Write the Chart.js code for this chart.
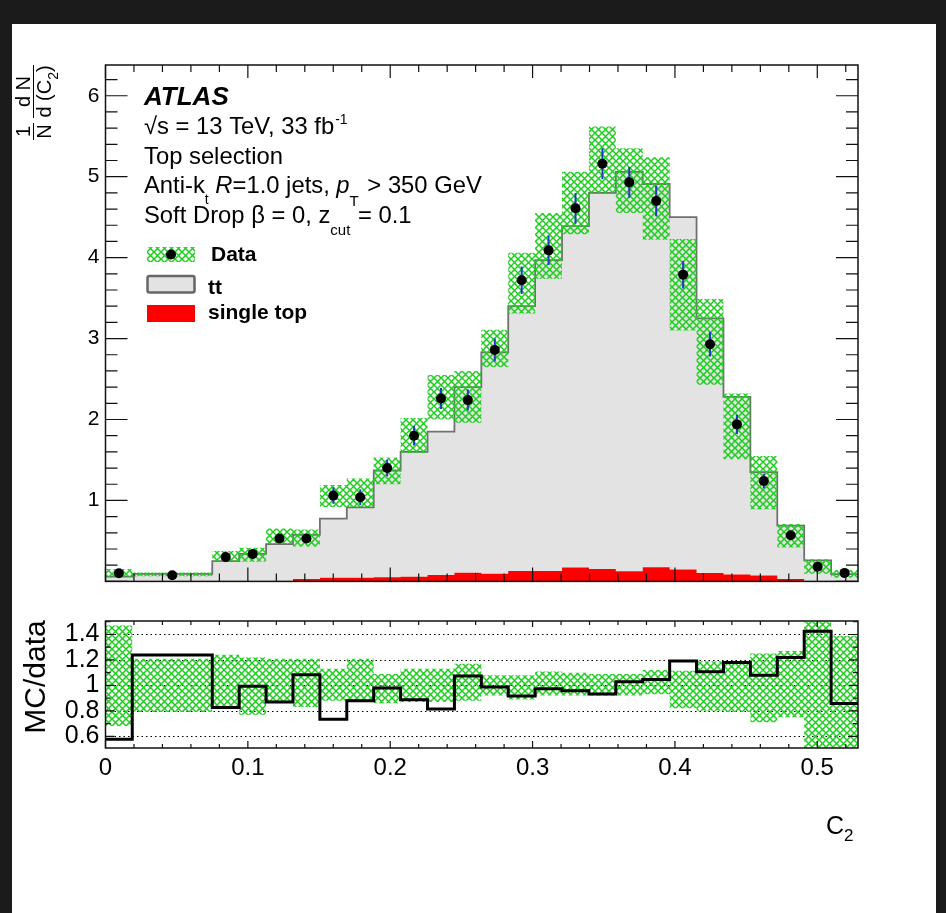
<!DOCTYPE html>
<html>
<head>
<meta charset="utf-8">
<script src="https://cdn.jsdelivr.net/npm/chart.js@4"></script>
<style>
  html, body { margin: 0; padding: 0; background: #1b1b1b; }
  #page { position: absolute; left: 12px; top: 24px; width: 924px; height: 889px; background: #fff; }
  canvas { position: absolute; left: 0; }
  #topChart { top: 0; width: 946px; height: 600px; }
  #ratioChart { top: 600px; width: 946px; height: 313px; }
</style>
</head>
<body>
<div id="page"></div>
<canvas id="topChart" width="946" height="600"></canvas>
<canvas id="ratioChart" width="946" height="313"></canvas>
<script>
const FONT = "'Liberation Sans', Arial, Helvetica, sans-serif";

// C2 bin edges (26 bins)
const binEdges = [0, 0.0188, 0.075, 0.0939, 0.1128, 0.1317, 0.1506, 0.1695, 0.1884, 0.2073,
  0.2262, 0.2451, 0.2640, 0.2829, 0.3018, 0.3207, 0.3396, 0.3585, 0.3774, 0.3963,
  0.4152, 0.4341, 0.4530, 0.4719, 0.4908, 0.5097, 0.5286];

// 1/N dN/dC2, data
const dataValues = [0.10, 0.075, 0.30, 0.34, 0.53, 0.53, 1.06, 1.04, 1.40, 1.80, 2.26, 2.24, 2.86,
  3.72, 4.09, 4.61, 5.16, 4.93, 4.70, 3.79, 2.93, 1.94, 1.24, 0.57, 0.18, 0.105];
const dataStatErr = [0.02, 0.01, 0.03, 0.03, 0.04, 0.04, 0.10, 0.10, 0.10, 0.12, 0.13, 0.13, 0.14,
  0.17, 0.18, 0.19, 0.19, 0.19, 0.19, 0.17, 0.15, 0.12, 0.09, 0.05, 0.03, 0.02];
// hatched systematic band around data
const dataSysHi = [0.152, 0.11, 0.375, 0.415, 0.654, 0.64, 1.19, 1.27, 1.53, 2.02, 2.55, 2.60, 3.11,
  4.06, 4.55, 5.06, 5.62, 5.35, 5.24, 4.23, 3.49, 2.32, 1.55, 0.71, 0.275, 0.14];
const dataSysLo = [0.056, 0.064, 0.244, 0.244, 0.463, 0.43, 0.92, 0.92, 1.20, 1.59, 2.00, 1.96, 2.65,
  3.31, 3.74, 4.29, 4.79, 4.55, 4.22, 3.10, 2.43, 1.51, 0.89, 0.42, 0.096, 0.044];

// MC: ttbar and single top (stacked)
const singleTopValues = [0, 0, 0, 0, 0, 0.03, 0.045, 0.045, 0.05, 0.056, 0.08, 0.108, 0.096,
  0.128, 0.128, 0.172, 0.152, 0.124, 0.176, 0.148, 0.104, 0.084, 0.072, 0.03, 0, 0];
const ttValues = [0.06, 0.093, 0.25, 0.34, 0.46, 0.545, 0.73, 0.87, 1.32, 1.544, 1.77, 2.292, 2.734,
  3.272, 3.842, 4.218, 4.648, 4.936, 4.734, 4.352, 3.146, 2.196, 1.278, 0.66, 0.26, 0.09];

// ratio panel
const ratioValues = [0.576, 1.239, 0.827, 0.993, 0.869, 1.084, 0.733, 0.88, 0.979, 0.888, 0.815, 1.073, 0.988,
  0.916, 0.974, 0.958, 0.932, 1.028, 1.047, 1.192, 1.108, 1.18, 1.08, 1.22, 1.426, 0.857];
const ratioBandHi = [1.47, 1.21, 1.24, 1.22, 1.21, 1.21, 1.13, 1.21, 1.09, 1.13, 1.13, 1.17, 1.08,
  1.08, 1.11, 1.10, 1.09, 1.09, 1.12, 1.115, 1.19, 1.17, 1.25, 1.27, 1.50, 1.39];
const ratioBandLo = [0.68, 0.79, 0.82, 0.77, 0.87, 0.83, 0.88, 0.87, 0.86, 0.87, 0.87, 0.88, 0.92,
  0.89, 0.92, 0.92, 0.92, 0.92, 0.93, 0.82, 0.80, 0.79, 0.71, 0.75, 0.50, 0.51];

// histogram helpers: with stepped "before", value i spans [edge i, edge i+1]
function stepPoints(vals) {
  return binEdges.map((e, i) => ({ x: e, y: vals[Math.min(i, vals.length - 1)] }));
}
const binCenters = binEdges.slice(0, -1).map((e, i) => (e + binEdges[i + 1]) / 2);

function makeHatch(canvas) {
  const c = document.createElement("canvas");
  c.width = 7; c.height = 7;
  const g = c.getContext("2d");
  g.strokeStyle = "#1ccf1c";
  g.lineWidth = 1.5;
  g.beginPath();
  g.moveTo(-1, -1); g.lineTo(8, 8);
  g.moveTo(8, -1); g.lineTo(-1, 8);
  g.stroke();
  return canvas.getContext("2d").createPattern(c, "repeat");
}

// inward ROOT-style ticks + frame
const rootTicks = {
  id: "rootTicks",
  afterDatasetsDraw(chart, args, o) {
    const { ctx, chartArea: a } = chart;
    const x = chart.scales.x, y = chart.scales.y;
    ctx.save();
    ctx.strokeStyle = "#111";
    ctx.lineWidth = 1.2;
    ctx.beginPath();
    for (let k = 0; k * o.xMinor <= x.max + 1e-9; k++) {
      const px = x.getPixelForValue(k * o.xMinor);
      const major = k % o.xEvery === 0;
      ctx.moveTo(px, a.top); ctx.lineTo(px, a.top + (major ? o.xTop[0] : o.xTop[1]));
      ctx.moveTo(px, a.bottom); ctx.lineTo(px, a.bottom - (major ? o.xBot[0] : o.xBot[1]));
    }
    const k0 = Math.ceil(y.min / o.yMinor - 1e-6), k1 = Math.floor(y.max / o.yMinor + 1e-6);
    for (let k = k0; k <= k1; k++) {
      const py = y.getPixelForValue(k * o.yMinor);
      const len = k % o.yEvery === 0 ? o.yLen[0] : o.yLen[1];
      ctx.moveTo(a.left, py); ctx.lineTo(a.left + len, py);
      ctx.moveTo(a.right, py); ctx.lineTo(a.right - len, py);
    }
    ctx.stroke();
    ctx.lineWidth = 1.5;
    ctx.strokeRect(a.left, a.top, a.right - a.left, a.bottom - a.top);
    ctx.restore();
  }
};

function richText(ctx, x, y, parts) {
  for (const p of parts) {
    x += p.dx || 0;
    ctx.font = `${p.style || "normal"} ${p.weight || "normal"} ${p.size || 23.8}px ${FONT}`;
    ctx.fillText(p.t, x, y + (p.dy || 0));
    x += ctx.measureText(p.t).width;
  }
}

const DATA_INDEX = 4;

// error bars of data, drawn just before the markers
const errorBars = {
  id: "errorBars",
  beforeDatasetDraw(chart, args) {
    if (args.index !== DATA_INDEX) return;
    const { ctx } = chart;
    const x = chart.scales.x, y = chart.scales.y;
    ctx.save();
    ctx.strokeStyle = "#2238c8";
    ctx.lineWidth = 2;
    ctx.beginPath();
    binCenters.forEach((c, i) => {
      const px = x.getPixelForValue(c);
      ctx.moveTo(px, y.getPixelForValue(dataValues[i] - dataStatErr[i]));
      ctx.lineTo(px, y.getPixelForValue(dataValues[i] + dataStatErr[i]));
    });
    ctx.stroke();
    ctx.restore();
  }
};

const topCanvas = document.getElementById("topChart");
const hatchTop = makeHatch(topCanvas);

// labels, legend and axis title of the main panel
const topLabels = {
  id: "topLabels",
  afterDraw(chart) {
    const ctx = chart.ctx;
    ctx.save();
    ctx.fillStyle = "#000";
    ctx.textAlign = "left";
    ctx.textBaseline = "alphabetic";
    richText(ctx, 144, 105, [{ t: "ATLAS", size: 26, weight: "bold", style: "italic" }]);
    richText(ctx, 144, 134, [{ t: "\u221As = 13 TeV, 33 fb" }, { t: "-1", size: 14, dy: -10, dx: 1 }]);
    richText(ctx, 144, 164, [{ t: "Top selection" }]);
    richText(ctx, 144, 193, [
      { t: "Anti-k" }, { t: "t", size: 14, dy: 11 }, { t: " " }, { t: "R", style: "italic" },
      { t: "=1.0 jets, " }, { t: "p", style: "italic" }, { t: "T", size: 15, dy: 13 },
      { t: " > 350 GeV", dx: 2 }
    ]);
    richText(ctx, 144, 222.5, [{ t: "Soft Drop \u03B2 = 0, z" }, { t: "cut", size: 15, dy: 12 }, { t: " = 0.1", dx: 1 }]);

    // legend
    ctx.fillStyle = hatchTop;
    ctx.fillRect(147, 247, 48, 15);
    ctx.fillStyle = "#000";
    ctx.beginPath(); ctx.arc(171, 254.5, 5, 0, Math.PI * 2); ctx.fill();
    ctx.fillStyle = "#e3e3e3";
    ctx.strokeStyle = "#666";
    ctx.lineWidth = 2.5;
    ctx.beginPath(); ctx.roundRect(147.5, 276, 47, 16.5, 2); ctx.fill(); ctx.stroke();
    ctx.fillStyle = "#ff0000";
    ctx.fillRect(147, 305, 48, 17);
    ctx.fillStyle = "#000";
    richText(ctx, 211, 261, [{ t: "Data", weight: "bold", size: 21 }]);
    richText(ctx, 208, 294, [{ t: "tt", weight: "bold", size: 21 }]);
    richText(ctx, 208, 319, [{ t: "single top", weight: "bold", size: 21 }]);

    // y title: 1/N dN/d(C2)
    ctx.translate(33, 0);
    ctx.rotate(-Math.PI / 2);
    ctx.font = `20px ${FONT}`;
    ctx.textAlign = "center";
    // local x = -screenY, local y = screenX - 33
    ctx.fillText("1", -131.5, -3);
    ctx.fillText("N", -131.5, 18);
    ctx.fillText("d N", -91.5, -3);
    ctx.textAlign = "left";
    const den = "d (C";
    const wDen = ctx.measureText(den).width;
    ctx.font = `14px ${FONT}`;
    const wSub = ctx.measureText("2").width;
    ctx.font = `20px ${FONT}`;
    const wPar = ctx.measureText(")").width;
    const x0 = -91.5 - (wDen + wSub + wPar) / 2;
    ctx.fillText(den, x0, 18);
    ctx.font = `14px ${FONT}`;
    ctx.fillText("2", x0 + wDen, 25);
    ctx.font = `20px ${FONT}`;
    ctx.fillText(")", x0 + wDen + wSub, 18);
    ctx.strokeStyle = "#000";
    ctx.lineWidth = 1;
    ctx.beginPath();
    ctx.moveTo(-140, 0.5); ctx.lineTo(-123, 0.5);
    ctx.moveTo(-118, 0.5); ctx.lineTo(-65, 0.5);
    ctx.stroke();
    ctx.restore();
  }
};

new Chart(topCanvas, {
  type: "line",
  data: {
    datasets: [
      { label: "single top", data: stepPoints(singleTopValues), stack: "mc", stepped: "before",
        fill: "origin", backgroundColor: "#ff0000", borderColor: "rgba(0,0,0,0)", borderWidth: 0,
        pointRadius: 0, order: 4 },
      { label: "tt", data: stepPoints(ttValues), stack: "mc", stepped: "before",
        fill: "-1", backgroundColor: "#e3e3e3", borderColor: "#707070", borderWidth: 1.8,
        pointRadius: 0, order: 5 },
      { label: "sys hi", data: stepPoints(dataSysHi), stack: "sysHi", stepped: "before",
        fill: "+1", backgroundColor: hatchTop, borderColor: "rgba(0,0,0,0)", borderWidth: 0,
        pointRadius: 0, order: 3 },
      { label: "sys lo", data: stepPoints(dataSysLo), stack: "sysLo", stepped: "before",
        fill: false, borderColor: "rgba(0,0,0,0)", borderWidth: 0, pointRadius: 0, order: 3 },
      { label: "Data", data: binCenters.map((c, i) => ({ x: c, y: dataValues[i] })), stack: "data",
        showLine: false, pointRadius: 5, pointBackgroundColor: "#000", pointBorderWidth: 0, order: 1 }
    ]
  },
  options: {
    responsive: false, animation: false, devicePixelRatio: 1, events: [],
    layout: { padding: { left: 0, right: 88, top: 65, bottom: 1.5 } },
    plugins: {
      legend: { display: false }, tooltip: { enabled: false },
      rootTicks: { xMinor: 0.02, xEvery: 5, xTop: [13, 7], xBot: [14, 8], yMinor: 0.2, yEvery: 5, yLen: [22, 12] }
    },
    scales: {
      x: { type: "linear", min: 0, max: 0.5286, display: false },
      y: {
        type: "linear", stacked: true, min: 0, max: 6.38,
        afterFit: (s) => { s.width = 105.5; },
        grid: { display: false, drawTicks: false }, border: { display: false },
        ticks: { stepSize: 1, includeBounds: false, autoSkip: false, padding: 6, color: "#000",
          font: { family: FONT, size: 21 }, callback: (v) => (v === 0 ? "" : String(v)) }
      }
    }
  },
  plugins: [rootTicks, errorBars, topLabels]
});

const ratioCanvas = document.getElementById("ratioChart");
const hatchRatio = makeHatch(ratioCanvas);

const ratioExtras = {
  id: "ratioExtras",
  beforeDatasetsDraw(chart) {
    const { ctx, chartArea: a } = chart;
    const y = chart.scales.y;
    ctx.save();
    ctx.strokeStyle = "#000";
    ctx.lineWidth = 1.2;
    ctx.setLineDash([1.5, 3]);
    ctx.beginPath();
    y.ticks.forEach((t) => {
      const py = Math.round(y.getPixelForValue(t.value)) + 0.5;
      ctx.moveTo(a.left, py); ctx.lineTo(a.right, py);
    });
    ctx.stroke();
    ctx.restore();
  },
  afterDraw(chart) {
    const ctx = chart.ctx;
    ctx.save();
    ctx.fillStyle = "#000";
    ctx.translate(45, 77);
    ctx.rotate(-Math.PI / 2);
    ctx.textAlign = "center";
    ctx.font = `30px ${FONT}`;
    ctx.fillText("MC/data", 0, 0);
    ctx.restore();
    ctx.save();
    ctx.fillStyle = "#000";
    ctx.textAlign = "left";
    richText(ctx, 826, 234, [{ t: "C", size: 25 }, { t: "2", size: 17, dy: 7 }]);
    ctx.restore();
  }
};

new Chart(ratioCanvas, {
  type: "line",
  data: {
    datasets: [
      { label: "band hi", data: stepPoints(ratioBandHi), stepped: "before", fill: "+1",
        backgroundColor: hatchRatio, borderColor: "rgba(0,0,0,0)", borderWidth: 0, pointRadius: 0, clip: 0, order: 3 },
      { label: "band lo", data: stepPoints(ratioBandLo), stepped: "before", fill: false,
        borderColor: "rgba(0,0,0,0)", borderWidth: 0, pointRadius: 0, clip: 0, order: 3 },
      { label: "MC/data", data: stepPoints(ratioValues), stepped: "before", fill: false,
        borderColor: "#000", borderWidth: 3, pointRadius: 0, clip: 0, order: 1 }
    ]
  },
  options: {
    responsive: false, animation: false, devicePixelRatio: 1, events: [],
    layout: { padding: { left: 0, right: 88, top: 7, bottom: 125 } },
    plugins: {
      legend: { display: false }, tooltip: { enabled: false },
      rootTicks: { xMinor: 0.02, xEvery: 5, xTop: [6, 4], xBot: [7, 4], yMinor: 0.1, yEvery: 2, yLen: [9, 5] }
    },
    scales: {
      x: {
        type: "linear", min: 0, max: 0.5286,
        afterFit: (s) => { s.height = 40; },
        grid: { display: false, drawTicks: false }, border: { display: false },
        ticks: { stepSize: 0.1, includeBounds: false, autoSkip: false, padding: 6, color: "#000", maxRotation: 0,
          font: { family: FONT, size: 24 }, callback: (v) => (v === 0 ? "0" : v.toFixed(1)) }
      },
      y: {
        type: "linear", min: 0.508, max: 1.506,
        afterFit: (s) => { s.width = 105.5; },
        grid: { display: false, drawTicks: false }, border: { display: false },
        ticks: { stepSize: 0.2, includeBounds: false, autoSkip: false, padding: 6, color: "#000",
          font: { family: FONT, size: 25 }, callback: (v) => (Math.abs(v - 1) < 1e-6 ? "1" : v.toFixed(1)) }
      }
    }
  },
  plugins: [rootTicks, ratioExtras]
});
</script>
</body>
</html>
